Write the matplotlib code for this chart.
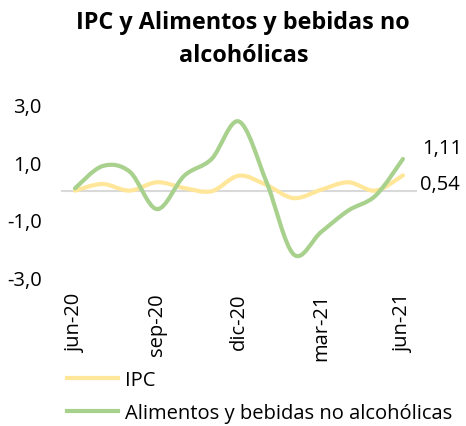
import matplotlib.pyplot as plt
from matplotlib.path import Path
from matplotlib.patches import PathPatch
from matplotlib.lines import Line2D

plt.rcParams['font.family'] = ['Open Sans', 'DejaVu Sans']

# Monthly variation (%)
months = ['jun-20', 'jul-20', 'ago-20', 'sep-20', 'oct-20', 'nov-20', 'dic-20',
          'ene-21', 'feb-21', 'mar-21', 'abr-21', 'may-21', 'jun-21']
ipc = [0.01, 0.24, 0.01, 0.30, 0.10, -0.01, 0.53, 0.21, -0.25, 0.04, 0.30, 0.01, 0.54]
alimentos = [0.09, 0.86, 0.67, -0.63, 0.53, 1.11, 2.41, 0.33, -2.20, -1.43, -0.68, -0.16, 1.11]
series_names = ['IPC', 'Alimentos y bebidas no alcohólicas']
colors = ['#FFE699', '#A9D18E']
FS = 14.5


def smooth_path(xs, ys):
    # Excel-like smoothed line: Catmull-Rom converted to cubic Bezier segments
    pts = list(zip(xs, ys))
    verts = [pts[0]]
    codes = [Path.MOVETO]
    n = len(pts)
    for i in range(n - 1):
        p0 = pts[max(i - 1, 0)]
        p1 = pts[i]
        p2 = pts[i + 1]
        p3 = pts[min(i + 2, n - 1)]
        c1 = (p1[0] + (p2[0] - p0[0]) / 6, p1[1] + (p2[1] - p0[1]) / 6)
        c2 = (p2[0] - (p3[0] - p1[0]) / 6, p2[1] - (p3[1] - p1[1]) / 6)
        verts += [c1, c2, p2]
        codes += [Path.CURVE4] * 3
    return Path(verts, codes)


fig = plt.figure(figsize=(4.66, 4.27), dpi=100)
ax = fig.add_axes([0.1316, 0.348, 0.7624, 0.405])

x = list(range(len(months)))
ax.axhline(0, color='#D9D9D9', linewidth=1.5, zorder=1)
for vals, col in zip([ipc, alimentos], colors):
    ax.add_patch(PathPatch(smooth_path(x, vals), facecolor='none', edgecolor=col,
                           linewidth=3, capstyle='round', joinstyle='round', zorder=2))

ax.set_xlim(-0.5, len(months) - 0.5)
ax.set_ylim(-3, 3)
ax.set_yticks([-3, -1, 1, 3])
ax.set_yticklabels(['-3,0', '-1,0', '1,0', '3,0'])
ax.set_xticks(x[::3])
ax.set_xticklabels(months[::3], rotation=90, va='top', ha='center')
ax.tick_params(axis='both', length=0, labelsize=FS, colors='black')
ax.tick_params(axis='y', pad=14)
ax.tick_params(axis='x', pad=11)
for s in ax.spines.values():
    s.set_visible(False)

# end labels
ax.annotate('1,11', (x[-1], alimentos[-1]), xytext=(14, 8), textcoords='offset points',
            fontsize=FS, va='center', ha='left')
ax.annotate('0,54', (x[-1], ipc[-1]), xytext=(12, -6), textcoords='offset points',
            fontsize=FS, va='center', ha='left')

fig.text(0.522, 0.975, 'IPC y Alimentos y bebidas no\nalcohólicas', ha='center', va='top',
         fontsize=16.8, fontweight='bold', linespacing=1.5)

handles = [Line2D([], [], color=c, linewidth=3) for c in colors]
fig.legend(handles, series_names, loc='upper left', bbox_to_anchor=(0.143, 0.13),
           frameon=False, fontsize=FS, handlelength=2.55, handletextpad=0.35,
           labelspacing=0.62, borderaxespad=0, borderpad=0)

fig.savefig('out.png', dpi=100)
